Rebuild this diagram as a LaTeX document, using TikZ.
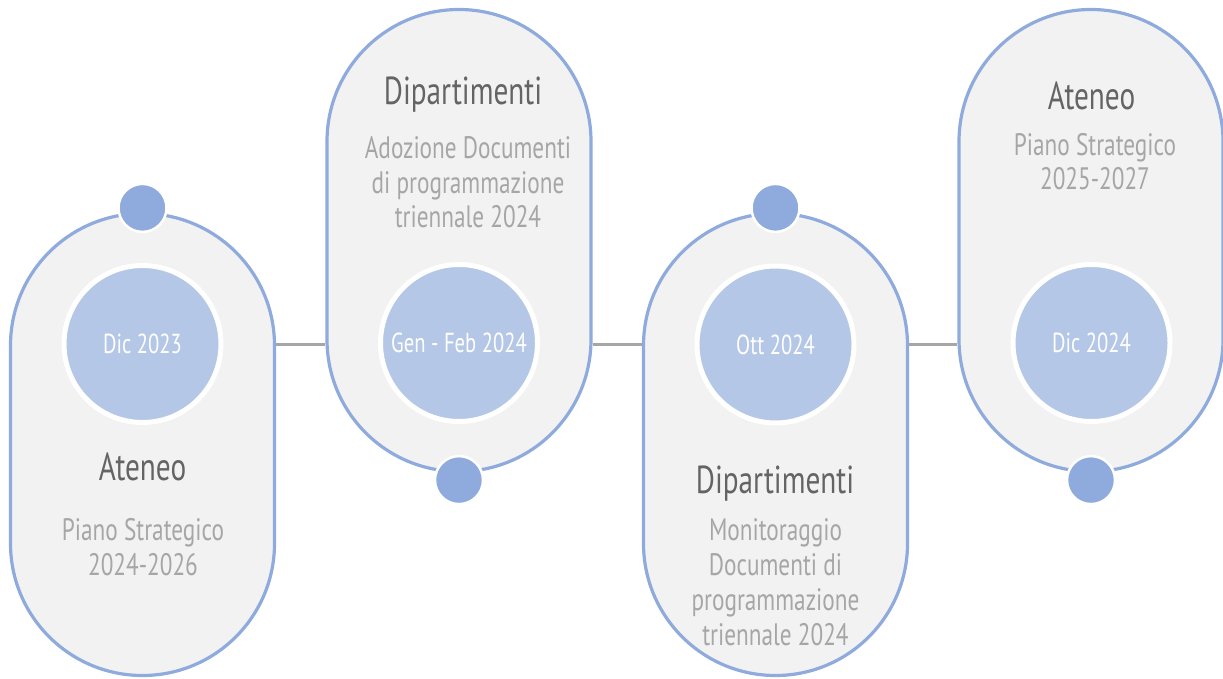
\documentclass[tikz,border=0pt]{standalone}
\usepackage{fontspec}
\setmainfont{PT Sans}[FakeStretch=0.75]
\usetikzlibrary{positioning}
\definecolor{pillfill}{RGB}{242,242,242}
\definecolor{pillline}{RGB}{143,170,220}
\definecolor{datefill}{RGB}{180,199,231}
\definecolor{pinfill}{RGB}{143,170,220}
\definecolor{headgray}{RGB}{100,100,100}
\definecolor{subgray}{RGB}{166,166,166}
\definecolor{linkgray}{RGB}{166,166,166}

\begin{document}
\begin{tikzpicture}[x=1pt, y=-1pt,
  pill/.style={draw=pillline, line width=3.2pt, fill=pillfill, rounded corners=132pt,
    minimum width=264pt, minimum height=462pt, inner sep=0pt},
  datecirc/.style={circle, fill=datefill, draw=white, line width=5pt, minimum size=157pt,
    inner sep=0pt, text=white, font=\fontsize{27.5}{32}\selectfont},
  pin/.style={circle, fill=pinfill, draw=white, line width=2.5pt, minimum size=48pt, inner sep=0pt},
  head/.style={anchor=base, text=headgray, font=\fontsize{39}{44}\selectfont},
  subtext/.style={anchor=base, text=subgray, align=center, font=\fontsize{31}{35}\selectfont},
  link/.style={draw=linkgray, line width=3pt}]
  \useasboundingbox (0,0) rectangle (1223,679);

  % pills
  \node[pill] (pillA) at (142.5,444.5) {};
  \node[pill] (pillB) at (459,240.5) {};
  \node[pill] (pillC) at (775.5,444.5) {};
  \node[pill] (pillD) at (1091,240.5) {};

  % dates
  \node[datecirc] (dateA) at (142.5,344) {Dic 2023};
  \node[datecirc] (dateB) at (459,343) {Gen - Feb 2024};
  \node[datecirc] (dateC) at (775.5,344.5) {Ott 2024};
  \node[datecirc] (dateD) at (1091.5,343) {Dic 2024};

  % connectors
  \draw[link] (pillA.east |- dateA.center) -- (pillB.west |- dateA.center);
  \draw[link] (pillB.east |- dateA.center) -- (pillC.west |- dateA.center);
  \draw[link] (pillC.east |- dateA.center) -- (pillD.west |- dateA.center);

  % pins
  \node[pin] (pinA) at ([yshift=4pt]pillA.north) {};
  \node[pin] (pinB) at ([yshift=-7pt]pillB.south) {};
  \node[pin] (pinC) at ([yshift=4pt]pillC.north) {};
  \node[pin] (pinD) at ([yshift=-7pt]pillD.south) {};

  % texts (base = last line)
  \node[head] (headA) at (142.5,480) {Ateneo};
  \node[subtext] (subA) at (143,575) {Piano Strategico\\2024-2026};
  \node[head] (headB) at (463,105) {Dipartimenti};
  \node[subtext] (subB) at (468,228) {Adozione Documenti\\di programmazione\\triennale 2024};
  \node[head] (headC) at (775,493) {Dipartimenti};
  \node[subtext] (subC) at (775.5,645) {Monitoraggio\\Documenti di\\programmazione\\triennale 2024};
  \node[head] (headD) at (1091.5,110) {Ateneo};
  \node[subtext] (subD) at (1095,190) {Piano Strategico\\2025-2027};
\end{tikzpicture}
\end{document}
